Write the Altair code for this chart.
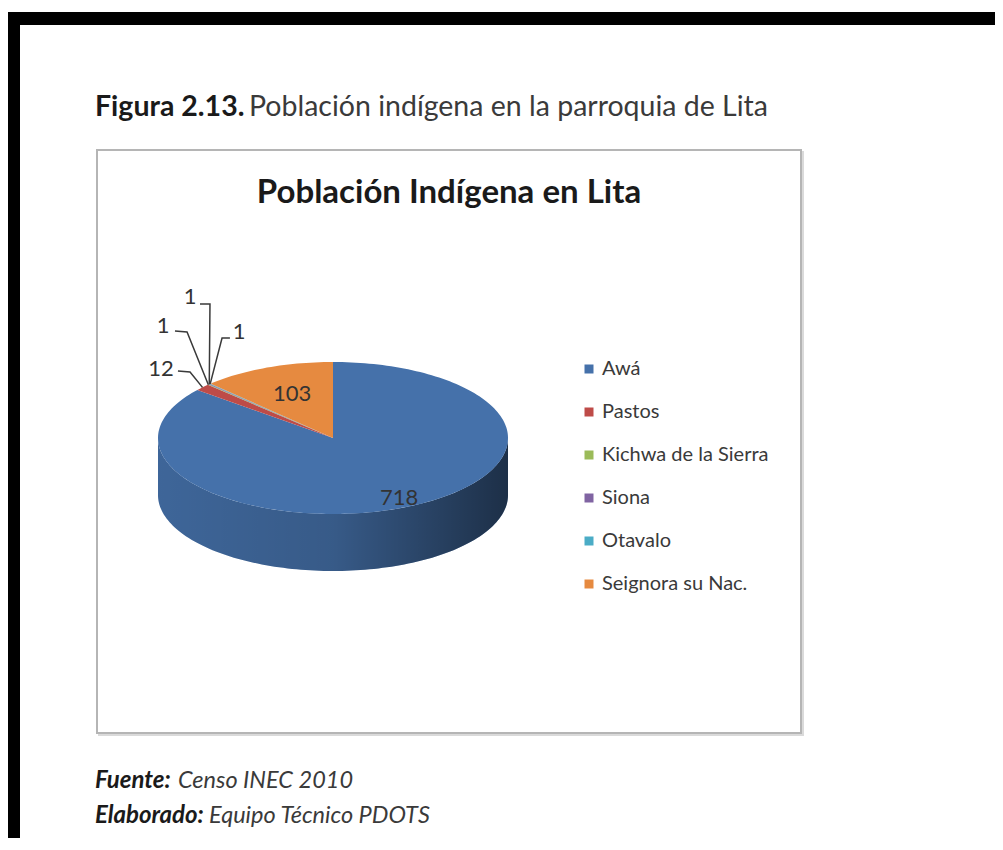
import math
import altair as alt
import pandas as pd

# ---------------- data ----------------
names = ["Awá", "Pastos", "Kichwa de la Sierra", "Siona", "Otavalo", "Seignora su Nac."]
values = [718, 12, 1, 1, 1, 103]
colors = ["#4571AA", "#BE4B48", "#9BBB59", "#8064A2", "#4BACC6", "#E68A40"]

caption_bold = "Figura 2.13."
caption_rest = "Población indígena en la parroquia de Lita"
chart_title = "Población Indígena en Lita"
note_labels = ["Fuente:", "Elaborado:"]
note_texts = ["Censo INEC 2010", "Equipo Técnico PDOTS"]

# ---------------- layout (page px) ----------------
W, H = 987, 830
OX, OY = 8, 8
CX, CY, RX, RY = 333, 438, 175, 76
DEPTH = 57 / RY  # side depth in unit radii
inside_r = {"Awá": 0.88, "Seignora su Nac.": 0.62}
# outside label placement (unit coords): text, end of leader, elbow
outside = {
    "Pastos": [(-0.983, 0.908), (-0.886, 0.882), (-0.817, 0.868)],
    "Kichwa de la Sierra": [(-0.971, 1.474), (-0.903, 1.408), (-0.834, 1.395)],
    "Siona": [(-0.817, 1.855), (-0.760, 1.763), (-0.703, 1.763)],
    "Otavalo": [(-0.537, 1.395), (-0.589, 1.316), (-0.634, 1.316)],
}

FONT = "Lato"

# ---------------- geometry derived from values ----------------
total = sum(values)
top_rows, side_rows, lab_rows, lead_rows = [], [], [], []
start = 0
for n, v in zip(names, values):
    a0 = start / total * 360
    a1 = (start + v) / total * 360
    start += v
    steps = max(2, int(math.ceil((a1 - a0) / 1.5)))
    k = 0
    top_rows.append(dict(slice=n, k=k, x=0.0, y=0.0)); k += 1
    for i in range(steps + 1):
        a = math.radians(a0 + (a1 - a0) * i / steps)
        top_rows.append(dict(slice=n, k=k, x=math.sin(a), y=math.cos(a))); k += 1
    top_rows.append(dict(slice=n, k=k, x=0.0, y=0.0))
    lo, hi = max(a0, 90), min(a1, 270)
    if lo < hi:
        st = max(2, int(math.ceil((hi - lo) / 1.5)))
        arc = [math.radians(lo + (hi - lo) * i / st) for i in range(st + 1)]
        k = 0
        for a in arc:
            side_rows.append(dict(slice=n, k=k, x=math.sin(a), y=math.cos(a))); k += 1
        for a in reversed(arc):
            side_rows.append(dict(slice=n, k=k, x=math.sin(a), y=math.cos(a) - DEPTH)); k += 1
    mid = math.radians((a0 + a1) / 2)
    if n in inside_r:
        r = inside_r[n]
        lab_rows.append(dict(slice=n, x=r * math.sin(mid), y=r * math.cos(mid), v=str(v)))
    elif n in outside:
        t, e, b = outside[n]
        lab_rows.append(dict(slice=n, x=t[0], y=t[1], v=str(v)))
        lead_rows += [dict(slice=n, k=0, x=math.sin(mid), y=math.cos(mid)),
                      dict(slice=n, k=1, x=b[0], y=b[1]),
                      dict(slice=n, k=2, x=e[0], y=e[1])]

top_df = pd.DataFrame(top_rows)
side_df = pd.DataFrame(side_rows)
lab_df = pd.DataFrame(lab_rows)
lead_df = pd.DataFrame(lead_rows)

xs = alt.Scale(domain=[-1, 1], range=[CX - RX - OX, CX + RX - OX])
ys = alt.Scale(domain=[-1, 1], range=[CY + RY - OY, CY - RY - OY])
X = alt.X("x:Q", scale=xs, axis=None)
Y = alt.Y("y:Q", scale=ys, axis=None)

legend = alt.Legend(title=None, orient="none", legendX=571, legendY=351,
                    symbolType="square", symbolSize=81, symbolStrokeWidth=0,
                    labelFont=FONT, labelFontSize=20, labelColor="#3a3a3a",
                    labelLimit=400, rowPadding=23, padding=0, labelOffset=3)
color = alt.Color("slice:N", scale=alt.Scale(domain=names, range=colors), legend=legend)

one = pd.DataFrame({"t": [""]})


def text(t, x, y, size, weight="normal", style="normal", align="left", col="#333333"):
    return alt.Chart(pd.DataFrame({"t": [t]})).mark_text(
        font=FONT, fontSize=size, fontWeight=weight, fontStyle=style,
        align=align, baseline="middle", color=col
    ).encode(x=alt.value(x - OX), y=alt.value(y - OY), text="t:N")


frame = alt.Chart(one).mark_rect(fillOpacity=0, stroke="black", strokeWidth=13).encode(
    x=alt.value(13.5 - OX), x2=alt.value(1030), y=alt.value(18.5 - OY), y2=alt.value(852.5 - OY))
box_shadow = alt.Chart(one).mark_rect(fillOpacity=0, stroke="#DADADA", strokeWidth=2).encode(
    x=alt.value(99 - OX), x2=alt.value(803 - OX), y=alt.value(152 - OY), y2=alt.value(735 - OY))
box = alt.Chart(one).mark_rect(fill="white", stroke="#B5B5B5", strokeWidth=2).encode(
    x=alt.value(97 - OX), x2=alt.value(801 - OX), y=alt.value(150 - OY), y2=alt.value(733 - OY))

side = alt.Chart(side_df).mark_line(filled=True).encode(x=X, y=Y, color=color, order="k:Q")
shade = alt.Chart(side_df).mark_line(
    filled=True,
    fill=alt.LinearGradient(gradient="linear", x1=0, x2=1, y1=0, y2=0, stops=[
        alt.GradientStop(color="rgba(0,0,0,0.1)", offset=0),
        alt.GradientStop(color="rgba(0,0,0,0.2)", offset=0.5),
        alt.GradientStop(color="rgba(0,0,0,0.58)", offset=1)])
).encode(x=X, y=Y, detail="slice:N", order="k:Q")
top = alt.Chart(top_df).mark_line(filled=True).encode(x=X, y=Y, color=color, order="k:Q")
leads = alt.Chart(lead_df).mark_line(color="#3a3a3a", strokeWidth=1.5).encode(
    x=X, y=Y, detail="slice:N", order="k:Q")
labels = alt.Chart(lab_df).mark_text(font=FONT, fontSize=22, color="#333333").encode(
    x=X, y=Y, text="v:N")

chart = alt.layer(
    frame, box_shadow, box,
    text(caption_bold, 95, 107, 28.5, weight="bold", col="#1a1a1a"),
    text(caption_rest, 249, 107, 28.5, col="#3a3a3a"),
    text(chart_title, 449, 193, 33, weight="bold", align="center", col="#1a1a1a"),
    side, shade, top, leads, labels,
    text(note_labels[0], 95, 781, 24, weight="bold", style="italic", col="#1a1a1a"),
    text(note_texts[0], 178, 781, 23.5, style="italic", col="#3a3a3a"),
    text(note_labels[1], 95, 816, 24, weight="bold", style="italic", col="#1a1a1a"),
    text(note_texts[1], 209, 816, 23.5, style="italic", col="#3a3a3a"),
).properties(width=W, height=H, padding=0, autosize="none", background="white"
).configure_view(strokeWidth=0)

chart.save("out.html", embed_options={"renderer": "svg", "actions": False})
